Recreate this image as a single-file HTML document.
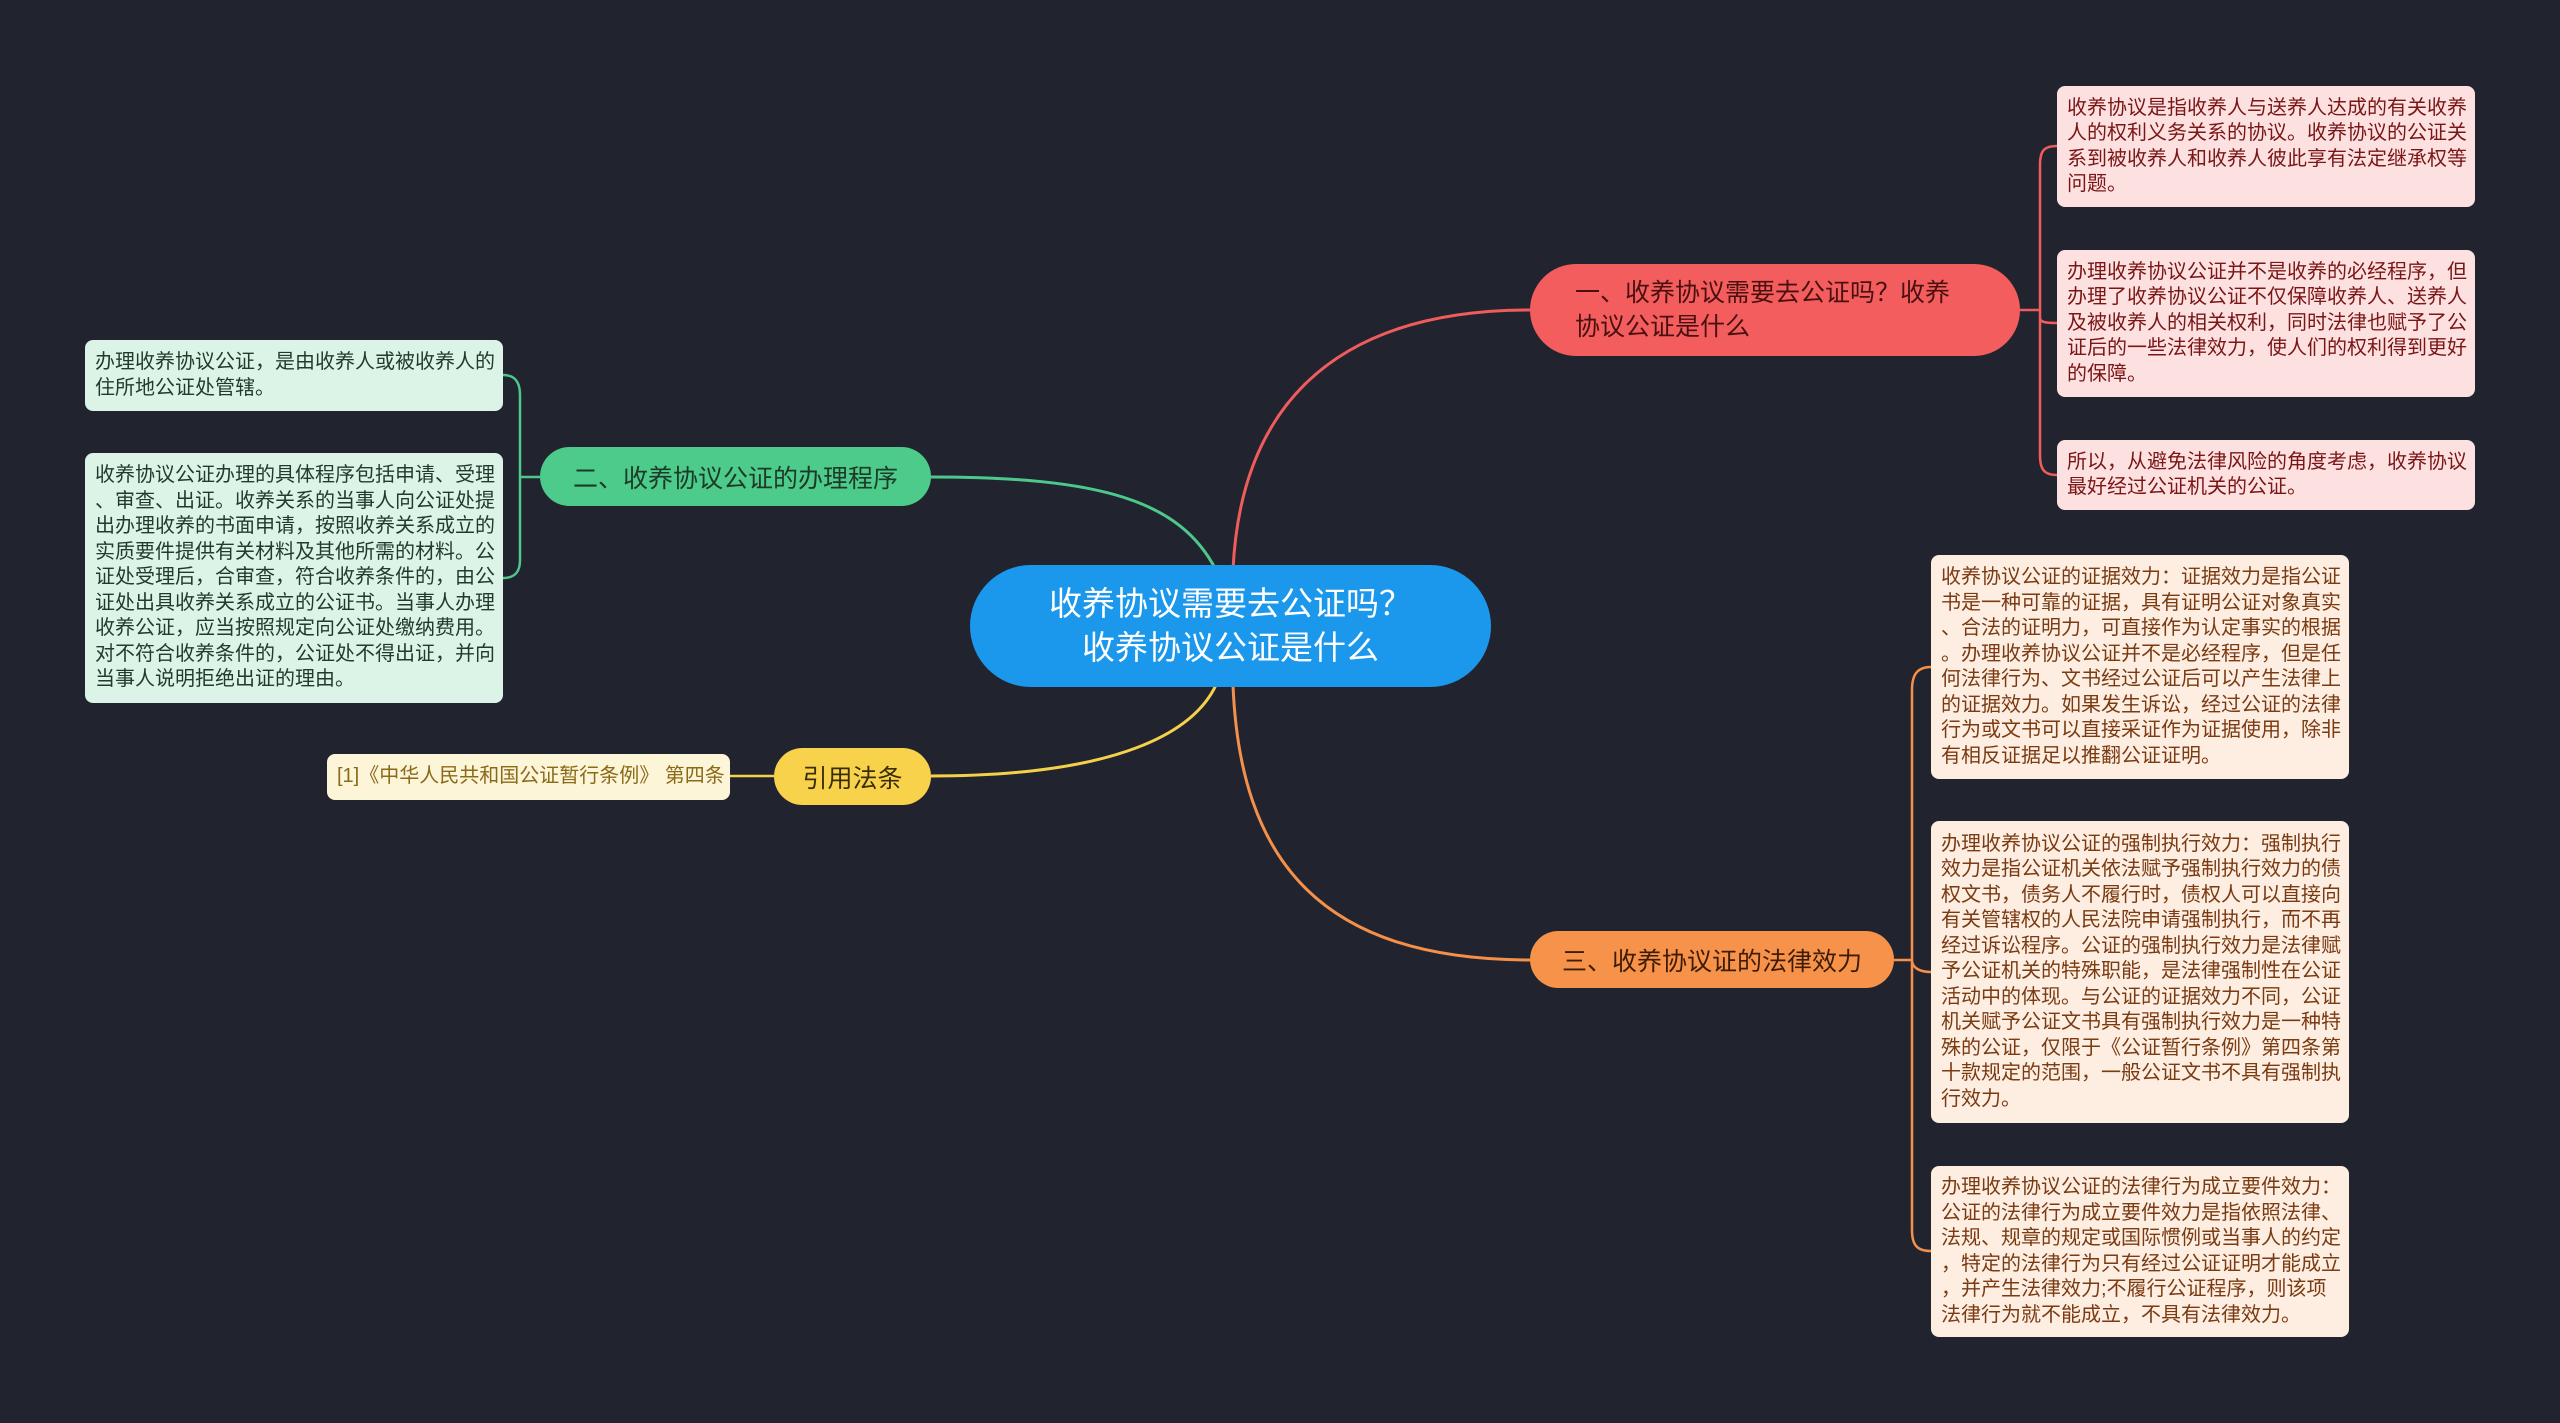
<!DOCTYPE html>
<html><head><meta charset="utf-8"><style>
body{margin:0;width:2560px;height:1423px;background:#21242f;position:relative;overflow:hidden;font-family:"Liberation Sans","Noto Sans CJK SC",sans-serif}
.n{position:absolute;box-sizing:border-box;display:flex;align-items:center}
.leaf{position:absolute;box-sizing:border-box;border-radius:8px;font-size:20px;line-height:25.5px;padding:0 10px;display:flex;align-items:center;white-space:nowrap}
.r{background:#fde1e1;color:#7a1616}
.o{background:#fdeee1;color:#7a3a12}
.g{background:#dcf3e8;color:#1f3b2a}
svg{position:absolute;left:0;top:0}
</style></head><body>
<svg width="2560" height="1423" fill="none" stroke-width="3">
<path d="M1233 570 C1240 420,1320 310,1530 310" stroke="#f05c5c"/>
<path d="M1216 570 C1180 500,1100 477,931 477" stroke="#4cc88a"/>
<path d="M1216 685 C1190 740,1100 776,931 776" stroke="#f5d04a"/>
<path d="M1233 685 C1240 860,1320 960,1530 960" stroke="#f5904a"/>
<path d="M2020 310 H2040 M2057 146 C2043 146,2040 152,2040 165 V455 C2040 468,2043 475,2057 475 M2040 318 C2040 322,2045 323,2057 323" stroke="#f05c5c" stroke-width="2.5"/>
<path d="M1894 960 H1912 M1931 667 C1917 667,1912 675,1912 690 V1230 C1912 1245,1917 1251,1931 1251 M1912 960 C1912 968,1920 972,1931 972" stroke="#f5904a" stroke-width="2.5"/>
<path d="M540 477 H520 M503 375 C515 375,520 382,520 395 V560 C520 572,515 578,503 578" stroke="#4cc88a" stroke-width="2.5"/>
<path d="M774 776 H730" stroke="#f5d04a" stroke-width="2.5"/>
</svg>

<div class="n" style="left:970px;top:565px;width:521px;height:122px;border-radius:61px;background:#1b97ec;color:#fff;font-size:33px;line-height:44px;justify-content:center;text-align:center">收养协议需要去公证吗？<br>收养协议公证是什么</div>

<div class="n" style="left:1530px;top:264px;width:490px;height:92px;border-radius:46px;background:#f45d5e;color:#4a1010;font-size:25px;line-height:34px;padding-left:45px">一、收养协议需要去公证吗？收养<br>协议公证是什么</div>

<div class="n" style="left:540px;top:447px;width:391px;height:59px;border-radius:30px;background:#4ccb8a;color:#1d3a28;font-size:25px;justify-content:center">二、收养协议公证的办理程序</div>

<div class="n" style="left:1530px;top:931px;width:364px;height:57px;border-radius:29px;background:#f7924a;color:#3e1c06;font-size:25px;justify-content:center">三、收养协议证的法律效力</div>

<div class="n" style="left:774px;top:748px;width:157px;height:57px;border-radius:29px;background:#f8d24a;color:#3a2e08;font-size:25px;justify-content:center">引用法条</div>

<div class="leaf" style="left:327px;top:754px;width:403px;height:46px;background:#fdf5d8;color:#8a6a18;font-size:20px">[1]《中华人民共和国公证暂行条例》 第四条</div>

<div class="leaf r" style="left:2057px;top:86px;width:418px;height:121px">收养协议是指收养人与送养人达成的有关收养<br>人的权利义务关系的协议。收养协议的公证关<br>系到被收养人和收养人彼此享有法定继承权等<br>问题。</div>
<div class="leaf r" style="left:2057px;top:250px;width:418px;height:147px">办理收养协议公证并不是收养的必经程序，但<br>办理了收养协议公证不仅保障收养人、送养人<br>及被收养人的相关权利，同时法律也赋予了公<br>证后的一些法律效力，使人们的权利得到更好<br>的保障。</div>
<div class="leaf r" style="left:2057px;top:440px;width:418px;height:70px">所以，从避免法律风险的角度考虑，收养协议<br>最好经过公证机关的公证。</div>

<div class="leaf o" style="left:1931px;top:555px;width:418px;height:224px">收养协议公证的证据效力：证据效力是指公证<br>书是一种可靠的证据，具有证明公证对象真实<br>、合法的证明力，可直接作为认定事实的根据<br>。办理收养协议公证并不是必经程序，但是任<br>何法律行为、文书经过公证后可以产生法律上<br>的证据效力。如果发生诉讼，经过公证的法律<br>行为或文书可以直接采证作为证据使用，除非<br>有相反证据足以推翻公证证明。</div>
<div class="leaf o" style="left:1931px;top:821px;width:418px;height:302px">办理收养协议公证的强制执行效力：强制执行<br>效力是指公证机关依法赋予强制执行效力的债<br>权文书，债务人不履行时，债权人可以直接向<br>有关管辖权的人民法院申请强制执行，而不再<br>经过诉讼程序。公证的强制执行效力是法律赋<br>予公证机关的特殊职能，是法律强制性在公证<br>活动中的体现。与公证的证据效力不同，公证<br>机关赋予公证文书具有强制执行效力是一种特<br>殊的公证，仅限于《公证暂行条例》第四条第<br>十款规定的范围，一般公证文书不具有强制执<br>行效力。</div>
<div class="leaf o" style="left:1931px;top:1166px;width:418px;height:171px">办理收养协议公证的法律行为成立要件效力：<br>公证的法律行为成立要件效力是指依照法律、<br>法规、规章的规定或国际惯例或当事人的约定<br>，特定的法律行为只有经过公证证明才能成立<br>，并产生法律效力;不履行公证程序，则该项<br>法律行为就不能成立，不具有法律效力。</div>

<div class="leaf g" style="left:85px;top:340px;width:418px;height:71px">办理收养协议公证，是由收养人或被收养人的<br>住所地公证处管辖。</div>
<div class="leaf g" style="left:85px;top:453px;width:418px;height:250px">收养协议公证办理的具体程序包括申请、受理<br>、审查、出证。收养关系的当事人向公证处提<br>出办理收养的书面申请，按照收养关系成立的<br>实质要件提供有关材料及其他所需的材料。公<br>证处受理后，合审查，符合收养条件的，由公<br>证处出具收养关系成立的公证书。当事人办理<br>收养公证，应当按照规定向公证处缴纳费用。<br>对不符合收养条件的，公证处不得出证，并向<br>当事人说明拒绝出证的理由。</div>
</body></html>
